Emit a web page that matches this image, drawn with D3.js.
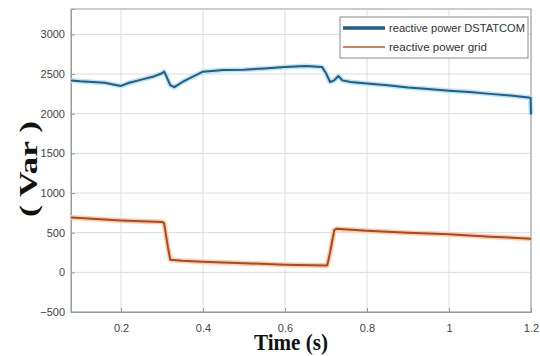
<!DOCTYPE html>
<html>
<head>
<meta charset="utf-8">
<script src="https://cdn.jsdelivr.net/npm/d3@7"></script>
<style>
  body { margin: 0; background: #fff; }
  svg { display: block; }
</style>
</head>
<body>
<div id="chart"></div>
<script>
// reactive power DSTATCOM (Var) over time (s)
const dstatcomT = [0.078, 0.10, 0.13, 0.16, 0.19, 0.20, 0.22, 0.25, 0.28, 0.30, 0.305, 0.31, 0.32, 0.33, 0.35, 0.38, 0.40, 0.45, 0.50, 0.55, 0.60, 0.65, 0.69, 0.70, 0.71, 0.72, 0.73, 0.74, 0.76, 0.80, 0.85, 0.90, 0.95, 1.00, 1.05, 1.10, 1.15, 1.199, 1.2];
const dstatcomV = [2420, 2410, 2400, 2390, 2360, 2350, 2390, 2430, 2470, 2510, 2530, 2480, 2360, 2335, 2400, 2480, 2530, 2550, 2555, 2570, 2590, 2600, 2590, 2510, 2400, 2420, 2475, 2420, 2400, 2380, 2360, 2330, 2310, 2290, 2275, 2250, 2230, 2200, 1990];

// reactive power grid
const gridT = [0.078, 0.15, 0.20, 0.25, 0.30, 0.305, 0.315, 0.32, 0.35, 0.40, 0.50, 0.60, 0.70, 0.703, 0.71, 0.72, 0.725, 0.80, 0.90, 1.00, 1.10, 1.20];
const gridV = [690, 670, 655, 645, 635, 620, 300, 160, 145, 135, 115, 95, 85, 90, 250, 530, 550, 525, 500, 480, 450, 425];

const xTicks = [0.2, 0.4, 0.6, 0.8, 1, 1.2];
const yTicks = [-500, 0, 500, 1000, 1500, 2000, 2500, 3000];
const seriesNames = ["reactive power DSTATCOM", "reactive power grid"];

const width = 540, height = 356;
const margin = {top: 9, right: 9, bottom: 44, left: 71};

const svg = d3.select("#chart").append("svg")
    .attr("width", width)
    .attr("height", height);

const x = d3.scaleLinear().domain([0.078, 1.2]).range([margin.left, width - margin.right]);
const y = d3.scaleLinear().domain([-500, 3320]).range([height - margin.bottom, margin.top]);

// grid
svg.append("g").selectAll("line").data(xTicks).join("line")
    .attr("x1", d => x(d)).attr("x2", d => x(d))
    .attr("y1", margin.top).attr("y2", height - margin.bottom)
    .attr("stroke", "#dcdcdc");
svg.append("g").selectAll("line").data(yTicks).join("line")
    .attr("x1", margin.left).attr("x2", width - margin.right)
    .attr("y1", d => y(d)).attr("y2", d => y(d))
    .attr("stroke", "#dcdcdc");

// axes (MATLAB style, ticks inside)
const xAxis = svg.append("g")
    .attr("transform", `translate(0,${height - margin.bottom})`)
    .call(d3.axisBottom(x).tickValues(xTicks).tickSize(-4).tickPadding(12).tickFormat(d3.format("~g")));
const yAxis = svg.append("g")
    .attr("transform", `translate(${margin.left},0)`)
    .call(d3.axisLeft(y).tickValues(yTicks).tickSize(-4).tickPadding(6).tickFormat(d3.format("d")));

[xAxis, yAxis].forEach(a => {
    a.select(".domain").attr("stroke", "#9a9a9a");
    a.selectAll(".tick line").attr("stroke", "#9a9a9a");
    a.selectAll(".tick text")
        .attr("fill", "#444")
        .style("font-family", "'Liberation Sans', Arial, sans-serif")
        .style("font-size", "11px");
});

// box border top/right
svg.append("rect")
    .attr("x", margin.left).attr("y", margin.top)
    .attr("width", width - margin.right - margin.left)
    .attr("height", height - margin.bottom - margin.top)
    .attr("fill", "none").attr("stroke", "#9a9a9a");

// lines
const line = d3.line().x(d => x(d[0])).y(d => y(d[1]));
const blueData = d3.zip(dstatcomT, dstatcomV);
const orangeData = d3.zip(gridT, gridV);

svg.append("path").datum(blueData)
    .attr("d", line).attr("fill", "none")
    .attr("stroke", "#bfe3f5").attr("stroke-width", 5).attr("stroke-linejoin", "round");
svg.append("path").datum(blueData)
    .attr("d", line).attr("fill", "none")
    .attr("stroke", "#1d5f86").attr("stroke-width", 2).attr("stroke-linejoin", "round");

svg.append("path").datum(orangeData)
    .attr("d", line).attr("fill", "none")
    .attr("stroke", "#f6cfb0").attr("stroke-width", 5).attr("stroke-linejoin", "round");
svg.append("path").datum(orangeData)
    .attr("d", line).attr("fill", "none")
    .attr("stroke", "#b4461c").attr("stroke-width", 2).attr("stroke-linejoin", "round");

// legend
const lg = svg.append("g");
lg.append("rect")
    .attr("x", 340).attr("y", 17).attr("width", 188).attr("height", 41)
    .attr("fill", "#fff").attr("stroke", "#8a8a8a");
const legendColors = ["#1d5f86", "#c8551f"];
const legendWidths = [3.5, 1.5];
seriesNames.forEach((name, i) => {
    const ly = 28 + i * 19;
    lg.append("line")
        .attr("x1", 343).attr("x2", 385).attr("y1", ly).attr("y2", ly)
        .attr("stroke", legendColors[i]).attr("stroke-width", legendWidths[i]);
    lg.append("text")
        .attr("x", 389).attr("y", ly + 4)
        .attr("textLength", i === 0 ? 136 : 98)
        .attr("lengthAdjust", "spacingAndGlyphs")
        .style("font-family", "'Liberation Sans', Arial, sans-serif")
        .style("font-size", "11px")
        .attr("fill", "#333")
        .text(name);
});

// axis labels
svg.append("text")
    .attr("x", 291).attr("y", 350)
    .attr("text-anchor", "middle")
    .attr("textLength", 74).attr("lengthAdjust", "spacingAndGlyphs")
    .style("font-family", "'Liberation Serif', 'Times New Roman', serif")
    .style("font-weight", "bold").style("font-size", "24px")
    .attr("fill", "#111")
    .text("Time (s)");

svg.append("text")
    .attr("transform", "translate(37,169) rotate(-90)")
    .attr("text-anchor", "middle")
    .attr("textLength", 96).attr("lengthAdjust", "spacingAndGlyphs")
    .style("font-family", "'Liberation Serif', 'Times New Roman', serif")
    .style("font-weight", "bold").style("font-size", "25px")
    .attr("fill", "#111")
    .text("( Var )");
</script>
</body>
</html>
